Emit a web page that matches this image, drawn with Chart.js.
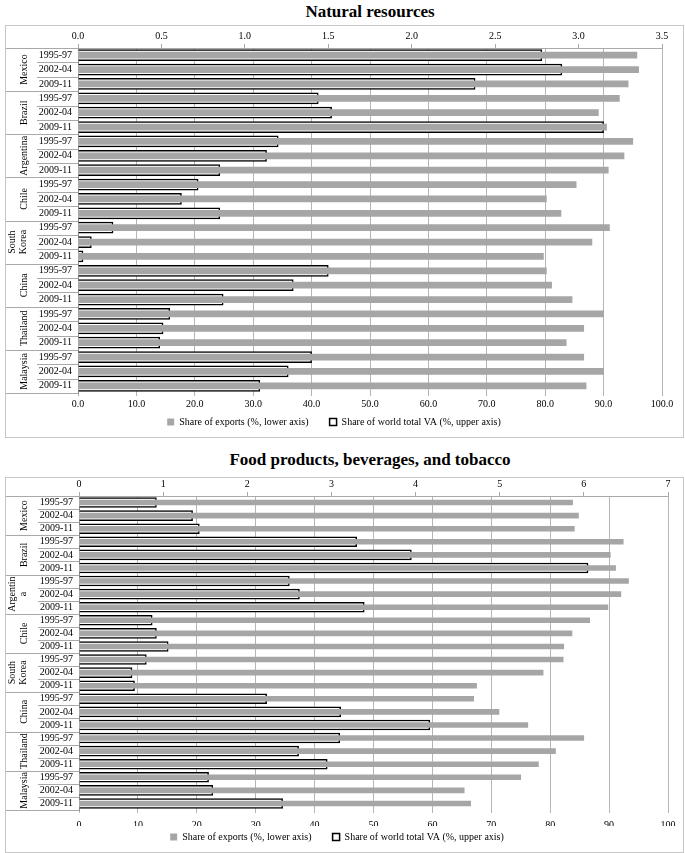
<!DOCTYPE html>
<html>
<head>
<meta charset="utf-8">
<script src="https://cdn.jsdelivr.net/npm/chart.js@4.4.1/dist/chart.umd.min.js"></script>
<style>
body { margin: 0; background: #fff; font-family: "Liberation Serif", serif; }
.title { position: absolute; left: 78px; width: 584px; text-align: center; font-weight: bold; font-size: 17px; line-height: 20px; }
.box { position: absolute; left: 5px; width: 679px; border: 1px solid #c6c6c6; box-sizing: border-box; }
</style>
</head>
<body>
<div class="title" style="top:2px">Natural resources</div>
<div class="box" style="top:25px;height:413px"><canvas id="natChart"></canvas></div>
<div class="title" style="top:450px">Food products, beverages, and tobacco</div>
<div class="box" style="top:477px;height:376px"><canvas id="foodChart"></canvas></div>
<script>
const years = ['1995-97', '2002-04', '2009-11'];
const natCountries = ['Mexico', 'Brazil', 'Argentina', 'Chile', ['South', 'Korea'], 'China', 'Thailand', 'Malaysia'];
const foodCountries = ['Mexico', 'Brazil', ['Argentin', 'a'], 'Chile', ['South', 'Korea'], 'China', 'Thailand', 'Malaysia'];

// share of exports (%), lower axis
const natExports = [95.7, 96.0, 94.2, 92.7, 89.1, 90.5, 95.0, 93.5, 90.8, 85.3, 80.2, 82.7,
                    91.0, 88.0, 79.7, 80.2, 81.1, 84.6, 90.0, 86.6, 83.6, 86.6, 90.0, 87.0];
// share of world total VA (%), upper axis
const natVA = [2.78, 2.90, 2.38, 1.44, 1.52, 3.15, 1.20, 1.13, 0.85, 0.72, 0.62, 0.85,
               0.21, 0.08, 0.03, 1.50, 1.29, 0.87, 0.55, 0.51, 0.49, 1.40, 1.26, 1.09];

const foodExports = [83.8, 84.8, 84.1, 92.4, 90.2, 91.1, 93.3, 92.0, 89.8, 86.7, 83.7, 82.3,
                     82.2, 78.8, 67.5, 67.0, 71.3, 76.2, 85.7, 80.9, 78.0, 75.0, 65.4, 66.5];
const foodVA = [0.92, 1.35, 1.43, 3.30, 3.95, 6.05, 2.50, 2.62, 3.39, 0.87, 0.92, 1.06,
                0.80, 0.63, 0.66, 2.23, 3.11, 4.17, 3.10, 2.61, 2.95, 1.54, 1.59, 2.42];

const natLowerTicks = ['0.0', '10.0', '20.0', '30.0', '40.0', '50.0', '60.0', '70.0', '80.0', '90.0', '100.0'];
const natUpperTicks = ['0.0', '0.5', '1.0', '1.5', '2.0', '2.5', '3.0', '3.5'];
const foodLowerTicks = ['0', '10', '20', '30', '40', '50', '60', '70', '80', '90', '100'];
const foodUpperTicks = ['0', '1', '2', '3', '4', '5', '6', '7'];

const serif = "'Liberation Serif', 'Times New Roman', serif";
const fontSize = 10;
const lineGrey = '#a9a9a9';
Chart.defaults.font.family = serif;
Chart.defaults.font.size = fontSize;
Chart.defaults.color = '#000';

// country names and separators in the left margin
const sideLabels = {
  id: 'sideLabels',
  afterDraw(chart, args, opts) {
    const ctx = chart.ctx;
    const y = chart.scales.y;
    const area = chart.chartArea;
    const n = y.getLabels().length;
    ctx.save();
    ctx.strokeStyle = lineGrey;
    ctx.lineWidth = 1;
    for (let i = 0; i <= n; i++) {
      let py;
      if (i === 0) py = area.top;
      else if (i === n) py = area.bottom;
      else py = (y.getPixelForValue(i - 1) + y.getPixelForValue(i)) / 2;
      const x0 = i % 3 === 0 ? 0 : area.left - 41;
      ctx.beginPath();
      ctx.moveTo(x0, Math.round(py) + 0.5);
      ctx.lineTo(area.left, Math.round(py) + 0.5);
      ctx.stroke();
    }
    ctx.fillStyle = '#000';
    ctx.font = fontSize + 'px ' + serif;
    ctx.textAlign = 'center';
    ctx.textBaseline = 'middle';
    opts.countries.forEach((c, g) => {
      const lines = Array.isArray(c) ? c : [c];
      const cy = y.getPixelForValue(g * 3 + 1);
      const cx = lines.length > 1 ? 11.5 : 18;
      ctx.save();
      ctx.translate(cx, cy);
      ctx.rotate(-Math.PI / 2);
      lines.forEach((t, k) => ctx.fillText(t, 0, (k - (lines.length - 1) / 2) * 11));
      ctx.restore();
    });
    ctx.restore();
  }
};

function buildChart(id, p) {
  const labels = [];
  p.countries.forEach(() => years.forEach(yr => labels.push(yr)));
  return new Chart(document.getElementById(id), {
    type: 'bar',
    data: {
      labels: labels,
      datasets: [{
        label: 'Share of exports (%, lower axis)      ',
        data: p.exports,
        xAxisID: 'x',
        backgroundColor: '#a6a6a6',
        borderWidth: 0,
        barThickness: p.thinBar,
        grouped: false,
        order: 1
      }, {
        label: 'Share of world total VA (%, upper axis)',
        data: p.va,
        xAxisID: 'x2',
        backgroundColor: '#ffffff',
        borderColor: '#000000',
        borderWidth: 1.5,
        barThickness: p.wideBar,
        grouped: false,
        order: 2
      }]
    },
    options: {
      indexAxis: 'y',
      responsive: true,
      maintainAspectRatio: false,
      animation: false,
      layout: { padding: { left: 0, right: p.padRight, top: 0, bottom: 0 } },
      scales: {
        y: {
          grid: { display: false, drawTicks: false },
          border: { display: true, color: '#8c8c8c' },
          ticks: { color: '#000', font: { family: serif, size: fontSize }, padding: 6, autoSkip: false },
          afterFit: s => { s.width = p.yWidth; }
        },
        x: {
          position: 'bottom',
          min: 0, max: 100,
          grid: { color: '#b5b5b5', tickLength: 3 },
          border: { display: false },
          ticks: { stepSize: 10, color: '#000', font: { family: serif, size: fontSize }, padding: p.lowerPad,
                   maxRotation: 0, autoSkip: false, callback: (v, i) => p.lowerTicks[i] },
          afterFit: s => { s.height = p.lowerHeight; }
        },
        x2: {
          position: 'top',
          min: 0, max: p.vaMax,
          grid: { drawOnChartArea: false, color: lineGrey, tickLength: 4 },
          border: { display: true, color: lineGrey },
          ticks: { stepSize: p.vaStep, color: '#000', font: { family: serif, size: fontSize }, padding: 2,
                   maxRotation: 0, autoSkip: false, callback: (v, i) => p.upperTicks[i] },
          afterFit: s => { s.height = p.upperHeight; }
        }
      },
      plugins: {
        legend: {
          position: 'bottom',
          labels: { color: '#000', font: { family: serif, size: fontSize }, boxWidth: 7, boxHeight: 7, padding: 6 }
        },
        tooltip: { enabled: false },
        sideLabels: { countries: p.countries }
      }
    },
    plugins: [sideLabels]
  });
}

buildChart('natChart', {
  countries: natCountries, exports: natExports, va: natVA,
  lowerTicks: natLowerTicks, upperTicks: natUpperTicks, vaMax: 3.5, vaStep: 0.5,
  thinBar: 6, wideBar: 11, yWidth: 72, padRight: 21,
  upperHeight: 22, lowerHeight: 18, lowerPad: 2
});

buildChart('foodChart', {
  countries: foodCountries, exports: foodExports, va: foodVA,
  lowerTicks: foodLowerTicks, upperTicks: foodUpperTicks, vaMax: 7, vaStep: 1,
  thinBar: 5, wideBar: 10, yWidth: 73, padRight: 15,
  upperHeight: 18, lowerHeight: 16, lowerPad: 6
});
</script>
</body>
</html>
